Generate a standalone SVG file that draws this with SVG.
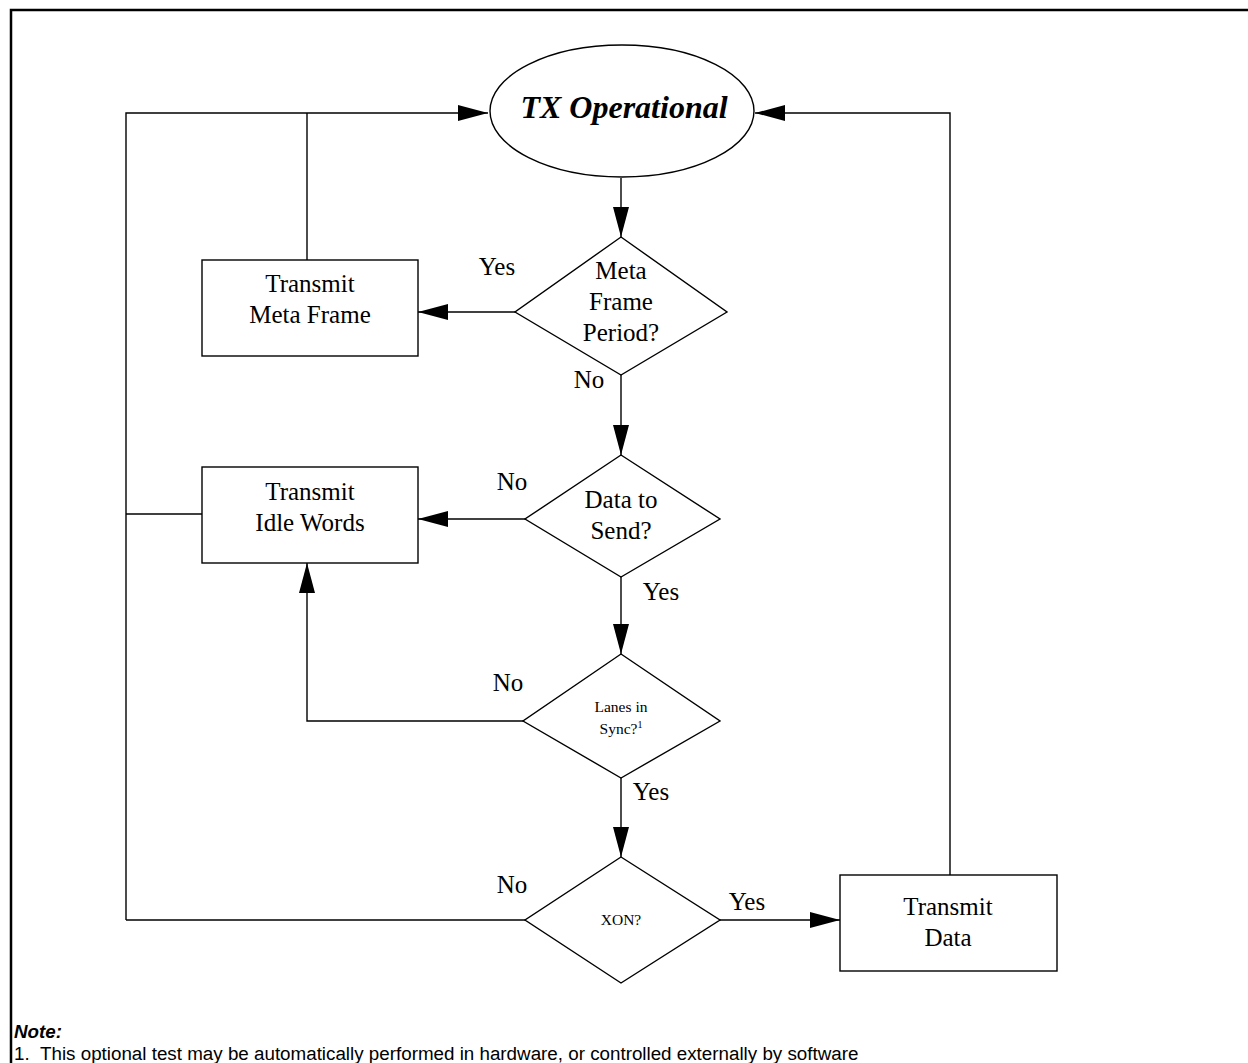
<svg xmlns="http://www.w3.org/2000/svg" width="1248" height="1063" viewBox="0 0 1248 1063">
  <style>
    .shape { fill: #fff; stroke: #000; stroke-width: 1.4; }
    .wire { fill: none; stroke: #000; stroke-width: 1.4; }
    .lbl { font-family: "Liberation Serif", "Times New Roman", serif; font-size: 25px; fill: #000; text-anchor: middle; }
    .small { font-family: "Liberation Serif", "Times New Roman", serif; font-size: 15.5px; fill: #000; text-anchor: middle; }
    .title { font-family: "Liberation Serif", "Times New Roman", serif; font-size: 32px; font-weight: bold; font-style: italic; fill: #000; text-anchor: middle; }
    .note { font-family: "Liberation Sans", Arial, sans-serif; font-size: 18.8px; fill: #000; }
  </style>
  <defs>
    <marker id="arrow" markerUnits="userSpaceOnUse" markerWidth="30" markerHeight="16" viewBox="0 0 30 16" refX="30" refY="8" orient="auto">
      <path d="M0,0 L30,8 L0,16 Z" fill="#000"/>
    </marker>
  </defs>

  <rect width="1248" height="1063" fill="#fff"/>

  <!-- page frame: top and left rules -->
  <path d="M11,1063 L11,10 L1248,10" fill="none" stroke="#000" stroke-width="2.5"/>

  <!-- connectors -->
  <g id="connectors">
    <!-- left return bus into TX Operational -->
    <path class="wire" d="M126,920 L126,113 L488,113" marker-end="url(#arrow)"/>
    <path class="wire" d="M307,260 L307,113"/>
    <path class="wire" d="M202,514 L126,514"/>
    <path class="wire" d="M525,920 L126,920"/>
    <!-- right return from Transmit Data -->
    <path class="wire" d="M950,875 L950,113 L755,113" marker-end="url(#arrow)"/>
    <!-- main vertical flow -->
    <path class="wire" d="M621,178 L621,237" marker-end="url(#arrow)"/>
    <path class="wire" d="M621,375 L621,455" marker-end="url(#arrow)"/>
    <path class="wire" d="M621,577 L621,654" marker-end="url(#arrow)"/>
    <path class="wire" d="M621,778 L621,857" marker-end="url(#arrow)"/>
    <!-- branches -->
    <path class="wire" d="M515,312 L418,312" marker-end="url(#arrow)"/>
    <path class="wire" d="M525,519 L418,519" marker-end="url(#arrow)"/>
    <path class="wire" d="M525,721 L307,721 L307,563" marker-end="url(#arrow)"/>
    <path class="wire" d="M720,920 L840,920" marker-end="url(#arrow)"/>
  </g>

  <!-- edge labels -->
  <g id="edge-labels">
    <text class="lbl" x="497" y="275">Yes</text>
    <text class="lbl" x="589" y="388">No</text>
    <text class="lbl" x="512" y="490">No</text>
    <text class="lbl" x="661" y="600">Yes</text>
    <text class="lbl" x="508" y="691">No</text>
    <text class="lbl" x="651" y="800">Yes</text>
    <text class="lbl" x="512" y="893">No</text>
    <text class="lbl" x="747" y="910">Yes</text>
  </g>

  <g id="tx-operational">
    <ellipse class="shape" cx="622" cy="111" rx="132" ry="66"/>
    <text class="title" x="624" y="118">TX Operational</text>
  </g>

  <g id="meta-frame-period">
    <path class="shape" d="M621,237 L727,312 L621,375 L515,312 Z"/>
    <text class="lbl" x="621" y="279">Meta</text>
    <text class="lbl" x="621" y="310">Frame</text>
    <text class="lbl" x="621" y="341">Period?</text>
  </g>

  <g id="transmit-meta-frame">
    <rect class="shape" x="202" y="260" width="216" height="96"/>
    <text class="lbl" x="310" y="292">Transmit</text>
    <text class="lbl" x="310" y="323">Meta Frame</text>
  </g>

  <g id="data-to-send">
    <path class="shape" d="M621,455 L720,519 L621,577 L525,519 Z"/>
    <text class="lbl" x="621" y="508">Data to</text>
    <text class="lbl" x="621" y="539">Send?</text>
  </g>

  <g id="transmit-idle-words">
    <rect class="shape" x="202" y="467" width="216" height="96"/>
    <text class="lbl" x="310" y="500">Transmit</text>
    <text class="lbl" x="310" y="531">Idle Words</text>
  </g>

  <g id="lanes-in-sync">
    <path class="shape" d="M621,654 L720,721 L621,778 L523,721 Z"/>
    <text class="small" x="621" y="712">Lanes in</text>
    <text class="small" x="621" y="734">Sync?<tspan font-size="10" dy="-6">1</tspan></text>
  </g>

  <g id="xon">
    <path class="shape" d="M621,857 L720,920 L621,983 L525,920 Z"/>
    <text class="small" x="621" y="925">XON?</text>
  </g>

  <g id="transmit-data">
    <rect class="shape" x="840" y="875" width="217" height="96"/>
    <text class="lbl" x="948" y="915">Transmit</text>
    <text class="lbl" x="948" y="946">Data</text>
  </g>

  <g id="notes">
    <text class="note" x="14" y="1038" font-size="18" font-weight="bold" font-style="italic">Note:</text>
    <text class="note" x="14" y="1060">1.</text>
    <text class="note" x="40" y="1060">This optional test may be automatically performed in hardware, or controlled externally by software</text>
  </g>
</svg>
